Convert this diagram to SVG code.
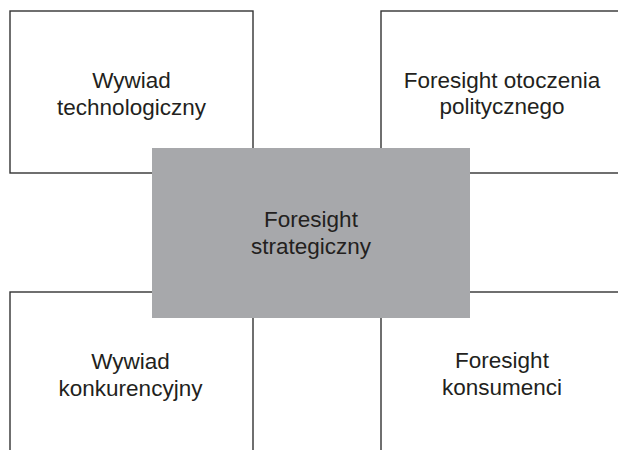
<svg xmlns="http://www.w3.org/2000/svg" width="618" height="450" viewBox="0 0 618 450">
  <style>
    .box { fill: #ffffff; stroke: #333333; stroke-width: 1.4; }
    .center { fill: #a7a8ab; stroke: none; }
    .label { font-family: "Liberation Sans", Arial, Helvetica, sans-serif; font-size: 22.5px; fill: #231f20; text-anchor: middle; }
  </style>
  <rect width="618" height="450" fill="#ffffff"/>
  <g id="node-wywiad-technologiczny">
    <rect class="box" x="10" y="11" width="243" height="162"/>
    <text class="label" x="131.5" y="88">Wywiad</text>
    <text class="label" x="131.5" y="115">technologiczny</text>
  </g>
  <g id="node-foresight-otoczenia">
    <rect class="box" x="381" y="11" width="243" height="162"/>
    <text class="label" x="502" y="88">Foresight otoczenia</text>
    <text class="label" x="502" y="114">politycznego</text>
  </g>
  <g id="node-wywiad-konkurencyjny">
    <rect class="box" x="10" y="292" width="243" height="170"/>
    <text class="label" x="130.5" y="369">Wywiad</text>
    <text class="label" x="130.5" y="396">konkurencyjny</text>
  </g>
  <g id="node-foresight-konsumenci">
    <rect class="box" x="381" y="292" width="243" height="170"/>
    <text class="label" x="502" y="368">Foresight</text>
    <text class="label" x="502" y="395">konsumenci</text>
  </g>
  <g id="node-foresight-strategiczny">
    <rect class="center" x="152" y="148" width="318" height="170"/>
    <text class="label" x="311" y="227">Foresight</text>
    <text class="label" x="311" y="254">strategiczny</text>
  </g>
  <g id="connectors"></g>
</svg>
